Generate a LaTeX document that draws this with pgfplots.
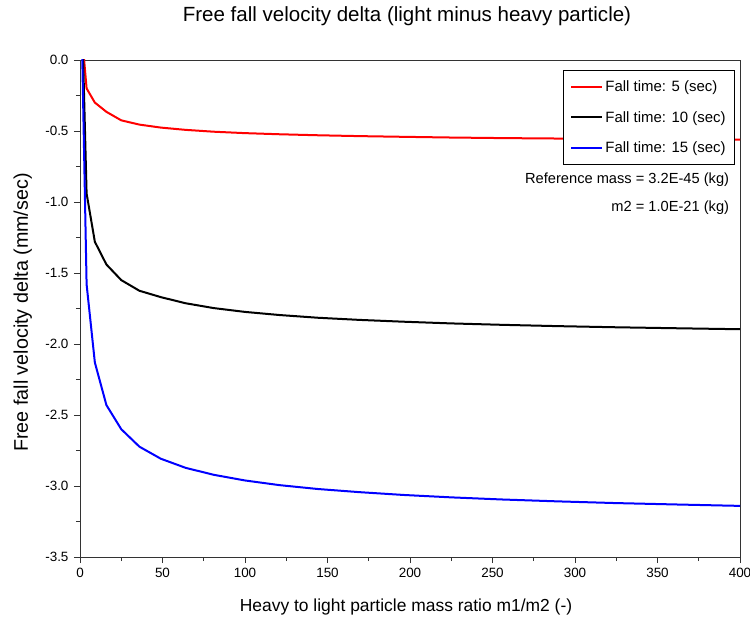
\documentclass[border=0pt]{standalone}
\usepackage{fontspec}
\setmainfont{Liberation Sans}
\usepackage{pgfplots}
\pgfplotsset{compat=1.18}

\pgfplotstableread{
x    y
1    0.20
4   -0.20
9   -0.300
16  -0.365
25  -0.425
36  -0.455
49  -0.476
64  -0.492
81  -0.505
100 -0.515
121 -0.523
144 -0.530
169 -0.536
196 -0.541
225 -0.546
256 -0.550
289 -0.553
324 -0.556
361 -0.559
400 -0.561
}\redtab

\pgfplotstableread{
x    y
1    0.41
4   -0.94
9   -1.28
16  -1.44
25  -1.55
36  -1.625
49  -1.670
64  -1.713
81  -1.747
100 -1.774
121 -1.796
144 -1.815
169 -1.830
196 -1.843
225 -1.855
256 -1.865
289 -1.874
324 -1.882
361 -1.889
400 -1.896
}\blacktab

\pgfplotstableread{
x    y
1    0.25
4   -1.58
9   -2.13
16  -2.43
25  -2.60
36  -2.723
49  -2.808
64  -2.872
81  -2.921
100 -2.961
121 -2.994
144 -3.021
169 -3.043
196 -3.063
225 -3.080
256 -3.095
289 -3.108
324 -3.120
361 -3.130
400 -3.140
}\bluetab

\begin{document}
\begin{tikzpicture}
\begin{axis}[
  name=ax,
  scale only axis,
  width=660bp, height=497bp,
  xmin=0, xmax=400, ymin=-3.5, ymax=0,
  xtick={0,50,...,400},
  ytick={-3.5,-3,...,0},
  minor x tick num=1,
  minor y tick num=1,
  tick align=outside,
  xtick pos=left, ytick pos=left,
  major tick length=6bp,
  minor tick length=4bp,
  axis line style={black!80, line width=0.9bp},
  every tick/.style={black!80, line width=0.9bp},
  /pgf/number format/assume math mode=true,
  yticklabel style={xshift=-2bp, /pgf/number format/.cd, fixed, fixed zerofill, precision=1},
  xticklabel style={yshift=-2bp, /pgf/number format/.cd, fixed},
  tick label style={font=\fontsize{13.5}{16}\selectfont},
  legend cell align=left,
  legend style={at={(1,1)}, anchor=north east, xshift=-5bp, yshift=-10bp,
    draw=black, line width=0.8bp, fill=white,
    font=\fontsize{15}{18}\selectfont,
    row sep=14.5bp, inner xsep=7bp, inner ysep=8bp},
  legend image code/.code={\draw[#1, line width=2bp] (0bp,0bp) -- (31bp,0bp);},
]
\addplot[red, line width=2bp] table[x=x,y=y]{\redtab};
\addlegendentry{Fall time: 5 (sec)}
\addplot[black, line width=2bp] table[x=x,y=y]{\blacktab};
\addlegendentry{Fall time: 10 (sec)}
\addplot[blue, line width=2bp] table[x=x,y=y]{\bluetab};
\addlegendentry{Fall time: 15 (sec)}

\node[anchor=east, font=\fontsize{14.7}{17}\selectfont] at (axis cs:395.5,-0.844) {Reference mass = 3.2E-45 (kg)};
\node[anchor=east, font=\fontsize{14.7}{17}\selectfont] at (axis cs:395.5,-1.04) {m2 = 1.0E-21 (kg)};
\end{axis}
\node[anchor=base, font=\fontsize{20.6}{24}\selectfont] at ([xshift=-3bp,yshift=38bp]ax.north) {Free fall velocity delta (light minus heavy particle)};
\node[anchor=base, font=\fontsize{17.5}{21}\selectfont] at ([xshift=-4bp,yshift=-54bp]ax.south) {Heavy to light particle mass ratio m1/m2 (-)};
\node[anchor=base, rotate=90, font=\fontsize{19.8}{23}\selectfont] at ([xshift=-52bp,yshift=-4bp]ax.west) {Free fall velocity delta (mm/sec)};
\pgfresetboundingbox
\path[use as bounding box] ([shift={(-80bp,-74bp)}]ax.south west) rectangle ([shift={(10bp,60bp)}]ax.north east);
\end{tikzpicture}
\end{document}
